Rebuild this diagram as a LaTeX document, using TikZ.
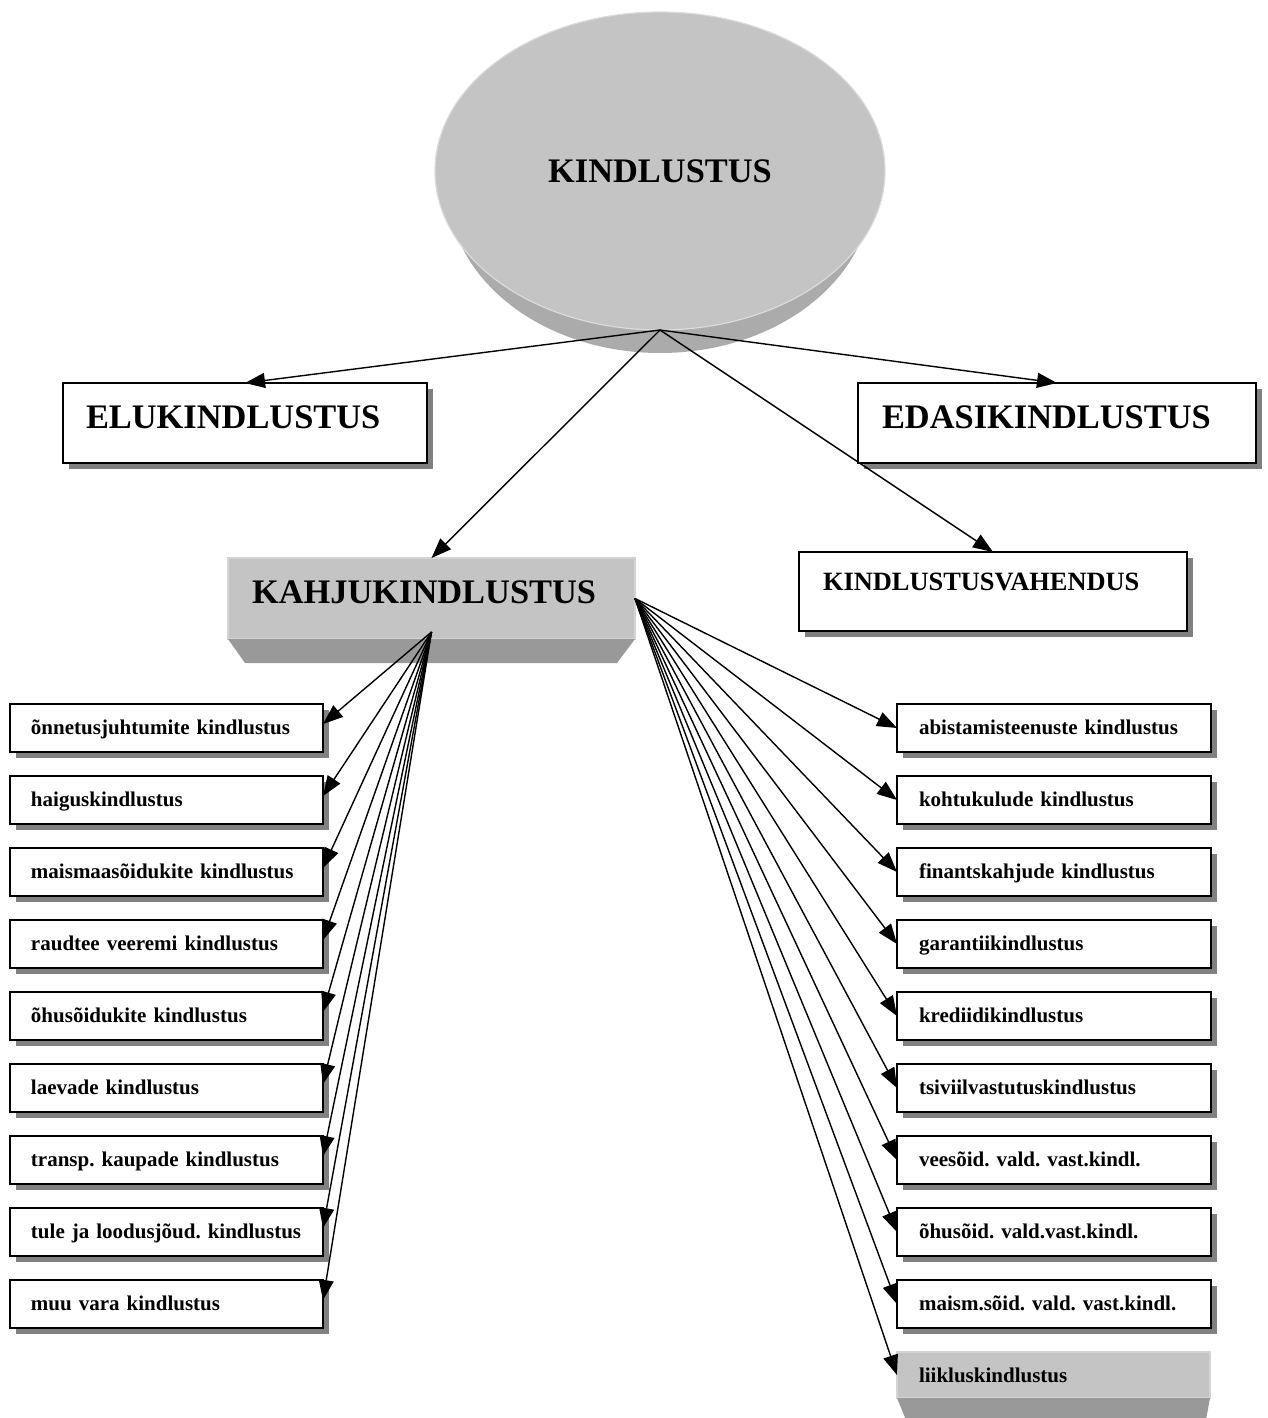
\documentclass[tikz,border=0pt]{standalone}
\usepackage{fontspec}
\setmainfont{Liberation Serif}
\usetikzlibrary{arrows.meta,shadows,shapes.geometric}
\frenchspacing

\tikzset{
	kast/.style={draw, line width=1pt, fill=white, anchor=north west, inner ysep=0pt, outer sep=0pt, align=left,
		drop shadow={shadow xshift=2.75pt, shadow yshift=-2.75pt, fill=black!50, opacity=1}},
	suur/.style={kast, font=\bfseries\fontsize{17.2}{20}\selectfont, inner xsep=11.5pt, text height=22.5pt, text depth=17.5pt},
	vahend/.style={kast, font=\bfseries\fontsize{13.2}{16}\selectfont, inner xsep=12pt, text width=170pt, text height=19pt, text depth=20.5pt},
	vasak/.style={kast, font=\bfseries\fontsize{10.5}{12}\selectfont, inner xsep=10.5pt, text width=135.5pt, text height=15pt, text depth=9pt},
	parem/.style={kast, font=\bfseries\fontsize{10.5}{12}\selectfont, inner xsep=11pt, text width=135pt, text height=15pt, text depth=9pt},
	ruum/.style={fill=black!23, draw=black!17, line width=1pt, anchor=north west, inner ysep=0pt, outer sep=0pt, align=left},
	nool/.style={line width=0.7pt, -{Triangle[length=10pt,width=7.5pt]}}
}

\begin{document}
\begin{tikzpicture}[x=0.5pt, y=-0.5pt]
		%%%%% START %%%%%
		\useasboundingbox (0, 0) rectangle (1268, 1418);
		
		% kindlustus
		\fill[black!33] (660, 188) ellipse [x radius=106pt, y radius=82.5pt];
		\node[ellipse, fill=black!23, draw=black!14, line width=0.6pt, minimum width=225pt, minimum height=159pt, inner sep=0pt, outer sep=0pt,
			font=\bfseries\fontsize{17.2}{20}\selectfont] (kindl) at (660, 171) {KINDLUSTUS};
		
		\node[suur, text width=159pt] (elu) at (63, 383) {ELUKINDLUSTUS};
		\node[suur, inner xsep=12pt, text width=175pt] (edasi) at (858, 383) {EDASIKINDLUSTUS};
		\node[vahend] (vahend) at (799, 552) {KINDLUSTUSVAHENDUS};
		
		\node[ruum, font=\bfseries\fontsize{17.2}{20}\selectfont, inner xsep=12pt, text width=179.5pt, text height=22.5pt, text depth=18pt] (kahju) at (228, 558) {KAHJUKINDLUSTUS};
		\fill[black!40] (kahju.south west) -- (kahju.south east) -- ++(-18, 24) -- ++(-372, 0) -- cycle;
		\coordinate (kahjualus) at ([yshift=3.5pt]kahju.south);
		
		% vasak veerg
		\node[vasak] (v1) at (10, 704) {õnnetusjuhtumite kindlustus};
		\node[vasak] (v2) at (10, 776) {haiguskindlustus};
		\node[vasak] (v3) at (10, 848) {maismaasõidukite kindlustus};
		\node[vasak] (v4) at (10, 920) {raudtee veeremi kindlustus};
		\node[vasak] (v5) at (10, 992) {õhusõidukite kindlustus};
		\node[vasak] (v6) at (10, 1064) {laevade kindlustus};
		\node[vasak] (v7) at (10, 1136) {transp. kaupade kindlustus};
		\node[vasak] (v8) at (10, 1208) {\mbox{tule ja loodusjõud. kindlustus}};
		\node[vasak] (v9) at (10, 1280) {muu vara kindlustus};
		
		% parem veerg
		\node[parem] (p1) at (897, 704) {abistamisteenuste kindlustus};
		\node[parem] (p2) at (897, 776) {kohtukulude kindlustus};
		\node[parem] (p3) at (897, 848) {finantskahjude kindlustus};
		\node[parem] (p4) at (897, 920) {garantiikindlustus};
		\node[parem] (p5) at (897, 992) {krediidikindlustus};
		\node[parem] (p6) at (897, 1064) {tsiviilvastutuskindlustus};
		\node[parem] (p7) at (897, 1136) {veesõid. vald. vast.kindl.};
		\node[parem] (p8) at (897, 1208) {õhusõid. vald.vast.kindl.};
		\node[parem] (p9) at (897, 1280) {maism.sõid. vald. vast.kindl.};
		
		\node[ruum, font=\bfseries\fontsize{10.5}{12}\selectfont, inner xsep=11pt, text width=134.5pt, text height=15pt, text depth=8pt] (p10) at (897, 1352) {liikluskindlustus};
		\fill[black!40] (p10.south west) -- (p10.south east) -- ++(-4, 22) -- ++(-300, 0) -- cycle;
		
		% nooled
		\draw[nool] (kindl.south) -- (elu.north);
		\draw[nool] (kindl.south) -- (edasi.north);
		\draw[nool] (kindl.south) -- (kahju.north);
		\draw[nool] (kindl.south) -- (vahend.north);
		
		\draw[nool] (kahjualus) -- ([yshift=2pt]v1.east);
		\draw[nool] (kahjualus) -- ([yshift=2pt]v2.east);
		\draw[nool] (kahjualus) -- ([yshift=2pt]v3.east);
		\draw[nool] (kahjualus) -- ([yshift=2pt]v4.east);
		\draw[nool] (kahjualus) -- ([yshift=2pt]v5.east);
		\draw[nool] (kahjualus) -- ([yshift=2pt]v6.east);
		\draw[nool] (kahjualus) -- ([yshift=2pt]v7.east);
		\draw[nool] (kahjualus) -- ([yshift=2pt]v8.east);
		\draw[nool] (kahjualus) -- ([yshift=2pt]v9.east);
		
		\draw[nool] (kahju.east) -- (p1.west);
		\draw[nool] (kahju.east) -- (p2.west);
		\draw[nool] (kahju.east) -- (p3.west);
		\draw[nool] (kahju.east) -- (p4.west);
		\draw[nool] (kahju.east) -- (p5.west);
		\draw[nool] (kahju.east) -- (p6.west);
		\draw[nool] (kahju.east) -- (p7.west);
		\draw[nool] (kahju.east) -- (p8.west);
		\draw[nool] (kahju.east) -- (p9.west);
		\draw[nool] (kahju.east) -- (p10.west);
		%%%%% END %%%%%
\end{tikzpicture}
\end{document}
